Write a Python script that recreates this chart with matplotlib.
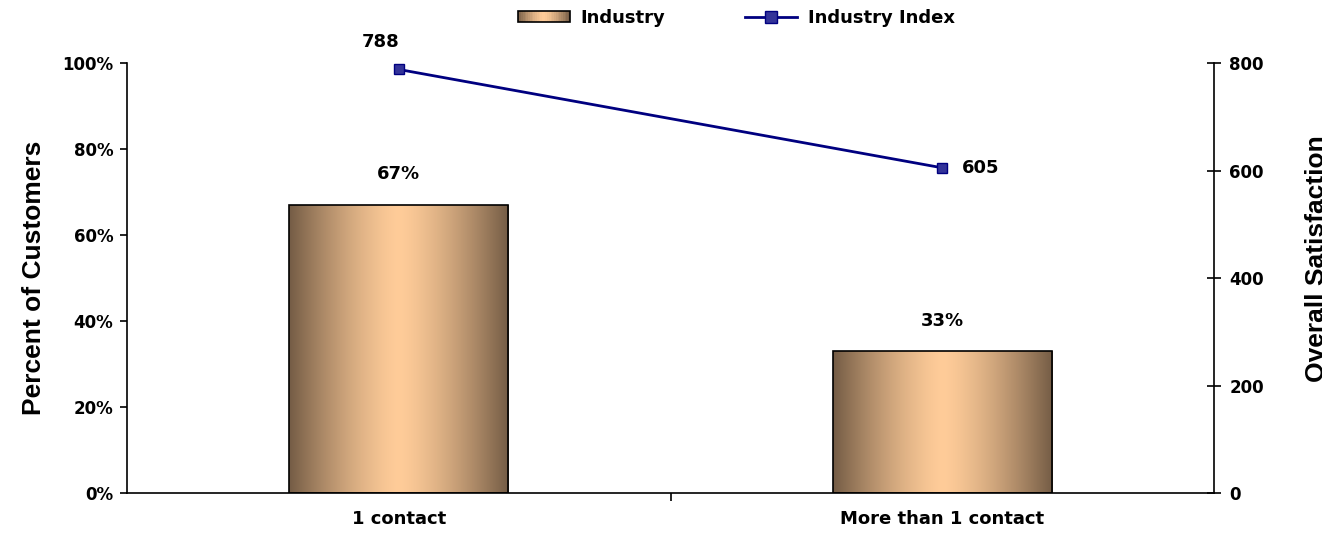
import numpy as np
import matplotlib.pyplot as plt
from matplotlib.patches import Rectangle
from matplotlib.legend_handler import HandlerBase
from matplotlib.colors import LinearSegmentedColormap

categories = ["1 contact", "More than 1 contact"]
pct_customers = [67, 33]
industry_index = [788, 605]

plt.rcParams['font.family'] = ['DejaVu Sans']
plt.rcParams['font.weight'] = 'bold'
title_font = ['Liberation Sans', 'DejaVu Sans']

# bronze cylinder shading: dark at both edges, peach in the middle
dark = np.array([0x74, 0x5c, 0x45]) / 255
light = np.array([0xff, 0xcc, 0x99]) / 255
u = np.linspace(0, 1, 256)
t = np.clip(np.abs(u - 0.5) * 2, 0, 1) ** 1.4
grad_rgb = light[None, :] + (dark - light)[None, :] * t[:, None]
grad_cmap = LinearSegmentedColormap.from_list("bronze", grad_rgb)
grad_img = np.linspace(0, 1, 256)[None, :]


class GradientHandler(HandlerBase):
    def create_artists(self, legend, orig_handle, xdescent, ydescent,
                       width, height, fontsize, trans):
        arts = []
        n = 30
        for i in range(n):
            c = grad_cmap((i + 0.5) / n)
            arts.append(Rectangle((-xdescent + width * i / n, -ydescent),
                                  width / n + 0.2, height, facecolor=c,
                                  edgecolor='none', transform=trans))
        arts.append(Rectangle((-xdescent, -ydescent), width, height,
                              facecolor='none', edgecolor='black', lw=1.2,
                              transform=trans))
        return arts


fig = plt.figure(figsize=(13.22, 5.33), dpi=100)
ax = fig.add_axes([0.0961, 0.075, 0.8222, 0.8068])
x = np.arange(len(categories))
bar_w = 0.403

bars = ax.bar(x, pct_customers, width=bar_w, facecolor='none',
              edgecolor='black', linewidth=1.2, zorder=3)
for b in bars:
    im = ax.imshow(grad_img, cmap=grad_cmap, aspect='auto',
                   extent=[b.get_x(), b.get_x() + b.get_width(), 0, b.get_height()],
                   zorder=2)
    im.set_clip_path(b)

for xi, v in zip(x, pct_customers):
    ax.text(xi, v + 5, f"{v}%", ha='center', va='bottom', fontsize=13,
            fontweight='bold')

ax.set_xlim(-0.5, 1.5)
ax.set_ylim(0, 100)
ax.set_yticks(np.arange(0, 101, 20))
ax.set_yticklabels([f"{v}%" for v in range(0, 101, 20)])
ax.set_xticks(x)
ax.set_xticklabels(categories)
ax.set_xticks([0.5], minor=True)
ax.tick_params(axis='x', which='major', length=0, pad=12, labelsize=13)
ax.tick_params(axis='x', which='minor', length=6, width=1.2, direction='out')
ax.tick_params(axis='y', length=5, width=1.2, direction='out', pad=5,
               labelsize=12)
ax.spines['top'].set_visible(False)
ax.spines['right'].set_visible(False)
for s in ['left', 'bottom']:
    ax.spines[s].set_linewidth(1.2)
ax.set_ylabel("Percent of Customers", fontsize=19, fontweight='bold',
              family=title_font)
ax.yaxis.set_label_coords(-0.075, 0.5)

ax2 = ax.twinx()
ax2.set_ylim(0, 800)
ax2.set_yticks(np.arange(0, 801, 200))
ax2.tick_params(axis='y', length=10, width=1.2, direction='inout', pad=6,
                labelsize=12)
for s in ['top', 'left', 'bottom']:
    ax2.spines[s].set_visible(False)
ax2.spines['right'].set_linewidth(1.2)
line, = ax2.plot(x, industry_index, color='#000080', linewidth=2,
                 marker='s', markersize=7, markerfacecolor='#333399',
                 markeredgecolor='#000080', zorder=4)
ax2.annotate(f"{industry_index[0]}", (x[0], industry_index[0]),
             xytext=(-18, 18), textcoords='offset pixels', ha='center',
             va='bottom', fontsize=13, fontweight='bold')
ax2.annotate(f"{industry_index[1]}", (x[1], industry_index[1]),
             xytext=(20, 0), textcoords='offset pixels', ha='left',
             va='center', fontsize=13, fontweight='bold')

fig.text(1305 / 1322, 0.514, "Overall Satisfaction", rotation=90,
         ha='left', va='center', fontsize=19, fontweight='bold',
         family=title_font)

bar_handle = Rectangle((0, 0), 1, 1)
fig.legend([bar_handle, line], ["Industry", "Industry Index"],
           handler_map={Rectangle: GradientHandler()},
           loc='center', bbox_to_anchor=(0.557, 0.966), ncol=2,
           frameon=False, fontsize=13, handlelength=2.9, handleheight=0.55,
           columnspacing=4.4, handletextpad=0.6, markerscale=1.2)

fig.savefig("out.png", dpi=100)
